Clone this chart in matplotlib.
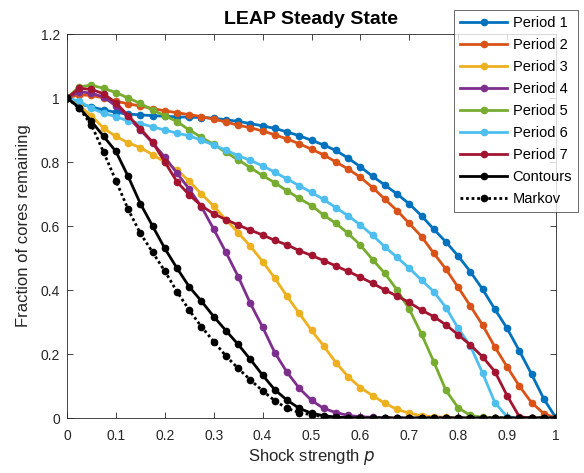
import numpy as np
import matplotlib
matplotlib.use("Agg")
import matplotlib.pyplot as plt

# shock strength grid (41 samples)
p = np.linspace(0, 1, 41)

period_1 = [1.000, 0.982, 0.972, 0.963, 0.955, 0.950, 0.947, 0.945, 0.943, 0.941,
            0.940, 0.939, 0.937, 0.932, 0.927, 0.920, 0.913, 0.905, 0.894, 0.882,
            0.868, 0.853, 0.836, 0.812, 0.785, 0.755, 0.728, 0.700, 0.669, 0.632,
            0.590, 0.550, 0.506, 0.457, 0.402, 0.340, 0.280, 0.210, 0.137, 0.060, 0.000]
period_2 = [1.000, 1.010, 1.008, 1.000, 0.990, 0.982, 0.975, 0.967, 0.960, 0.954,
            0.948, 0.942, 0.934, 0.925, 0.915, 0.907, 0.897, 0.885, 0.872, 0.857,
            0.840, 0.822, 0.800, 0.778, 0.752, 0.720, 0.684, 0.648, 0.608, 0.567,
            0.515, 0.465, 0.408, 0.350, 0.290, 0.222, 0.160, 0.100, 0.048, 0.014, 0.000]
period_3 = [1.000, 0.975, 0.945, 0.905, 0.880, 0.860, 0.845, 0.823, 0.800, 0.775,
            0.740, 0.700, 0.662, 0.620, 0.579, 0.537, 0.489, 0.437, 0.380, 0.327,
            0.274, 0.225, 0.173, 0.129, 0.095, 0.070, 0.046, 0.027, 0.015, 0.007,
            0.004, 0.002, 0.001, 0, 0, 0, 0, 0, 0, 0, 0]
period_4 = [1.000, 1.020, 1.015, 1.003, 0.975, 0.940, 0.900, 0.860, 0.815, 0.765,
            0.715, 0.660, 0.590, 0.518, 0.442, 0.358, 0.284, 0.204, 0.143, 0.093,
            0.055, 0.030, 0.017, 0.008, 0.004, 0.002, 0.001, 0, 0, 0,
            0, 0, 0, 0, 0, 0, 0, 0, 0, 0, 0]
period_5 = [1.000, 1.035, 1.040, 1.030, 1.017, 1.000, 0.983, 0.962, 0.945, 0.926,
            0.900, 0.877, 0.855, 0.830, 0.807, 0.782, 0.758, 0.735, 0.710, 0.686,
            0.664, 0.634, 0.608, 0.577, 0.540, 0.495, 0.452, 0.400, 0.340, 0.262,
            0.176, 0.086, 0.032, 0.008, 0.002, 0, 0, 0, 0, 0, 0]
period_6 = [1.000, 0.990, 0.968, 0.952, 0.942, 0.928, 0.920, 0.910, 0.900, 0.890,
            0.882, 0.868, 0.853, 0.837, 0.820, 0.805, 0.788, 0.768, 0.747, 0.726,
            0.705, 0.683, 0.657, 0.632, 0.603, 0.571, 0.535, 0.502, 0.468, 0.431,
            0.395, 0.345, 0.280, 0.225, 0.140, 0.048, 0.004, 0, 0, 0, 0]
period_7 = [1.000, 1.030, 1.027, 1.013, 0.985, 0.945, 0.904, 0.862, 0.800, 0.738,
            0.697, 0.663, 0.638, 0.620, 0.603, 0.587, 0.572, 0.555, 0.541, 0.523,
            0.508, 0.492, 0.475, 0.458, 0.440, 0.421, 0.400, 0.381, 0.361, 0.337,
            0.317, 0.291, 0.260, 0.228, 0.191, 0.145, 0.070, 0.004, 0, 0, 0]
contours = [1.000, 0.970, 0.927, 0.880, 0.833, 0.755, 0.670, 0.600, 0.530, 0.468,
            0.410, 0.365, 0.317, 0.273, 0.230, 0.183, 0.134, 0.088, 0.056, 0.030,
            0.015, 0.007, 0.003, 0.001, 0, 0, 0, 0, 0, 0,
            0, 0, 0, 0, 0, 0, 0, 0, 0, 0, 0]
markov = [1.000, 0.968, 0.916, 0.830, 0.742, 0.652, 0.577, 0.518, 0.459, 0.395,
          0.337, 0.285, 0.239, 0.194, 0.155, 0.119, 0.085, 0.054, 0.030, 0.017,
          0.010, 0.004, 0.001, 0, 0, 0, 0, 0, 0, 0,
          0, 0, 0, 0, 0, 0, 0, 0, 0, 0, 0]

series = [period_1, period_2, period_3, period_4, period_5, period_6, period_7]
names = ["Period 1", "Period 2", "Period 3", "Period 4", "Period 5", "Period 6", "Period 7"]
colors = ["#0072BD", "#D95319", "#EDB120", "#7E2F8E", "#77AC30", "#4DBEEE", "#A2142F"]

xticks = [0, 0.1, 0.2, 0.3, 0.4, 0.5, 0.6, 0.7, 0.8, 0.9, 1]
xtick_labels = ["0", "0.1", "0.2", "0.3", "0.4", "0.5", "0.6", "0.7", "0.8", "0.9", "1"]
yticks = [0, 0.2, 0.4, 0.6, 0.8, 1.0, 1.2]
ytick_labels = ["0", "0.2", "0.4", "0.6", "0.8", "1", "1.2"]

plt.rcParams["font.family"] = ["Liberation Sans", "DejaVu Sans"]

fig = plt.figure(figsize=(5.84, 4.73), dpi=100)
ax = fig.add_axes([67 / 584, 1 - 418 / 473, (556 - 67) / 584, (418 - 34) / 473])

for vals, name, col in zip(series, names, colors):
    ax.plot(p, vals, color=col, lw=2, marker="o", ms=4.5, label=name)
ax.plot(p, contours, color="black", lw=2, marker="o", ms=4.5, label="Contours")
ax.plot(p, markov, color="black", lw=2, ls=(0, (1, 1)), marker="o", ms=4.5, label="Markov")

ax.set_xlim(0, 1)
ax.set_ylim(0, 1.2)
ax.set_xticks(xticks)
ax.set_xticklabels(xtick_labels)
ax.set_yticks(yticks)
ax.set_yticklabels(ytick_labels)
ax.tick_params(direction="in", top=True, right=True, labelsize=10, colors="#262626",
               length=4, width=0.6)
ax.tick_params(axis="x", pad=8)
ax.tick_params(axis="y", pad=5)
for s in ax.spines.values():
    s.set_color("#262626")
    s.set_linewidth(0.6)

ax.set_xlabel("Shock strength $p$", fontsize=12, color="#262626", labelpad=3)
ax.set_ylabel("Fraction of cores remaining", fontsize=12, color="#262626", labelpad=7)
ax.set_title("LEAP Steady State", fontsize=14, fontweight="bold", pad=7)

leg = fig.legend(loc="upper right", bbox_to_anchor=(578 / 584, 1 - 10 / 473),
                 fontsize=10.5, handlelength=3.2, frameon=True, fancybox=False,
                 borderaxespad=0, labelspacing=0.55, handletextpad=0.4,
                 borderpad=0.4)
leg.get_frame().set_edgecolor("#262626")
leg.get_frame().set_linewidth(0.6)

fig.savefig("out.png", dpi=100)
